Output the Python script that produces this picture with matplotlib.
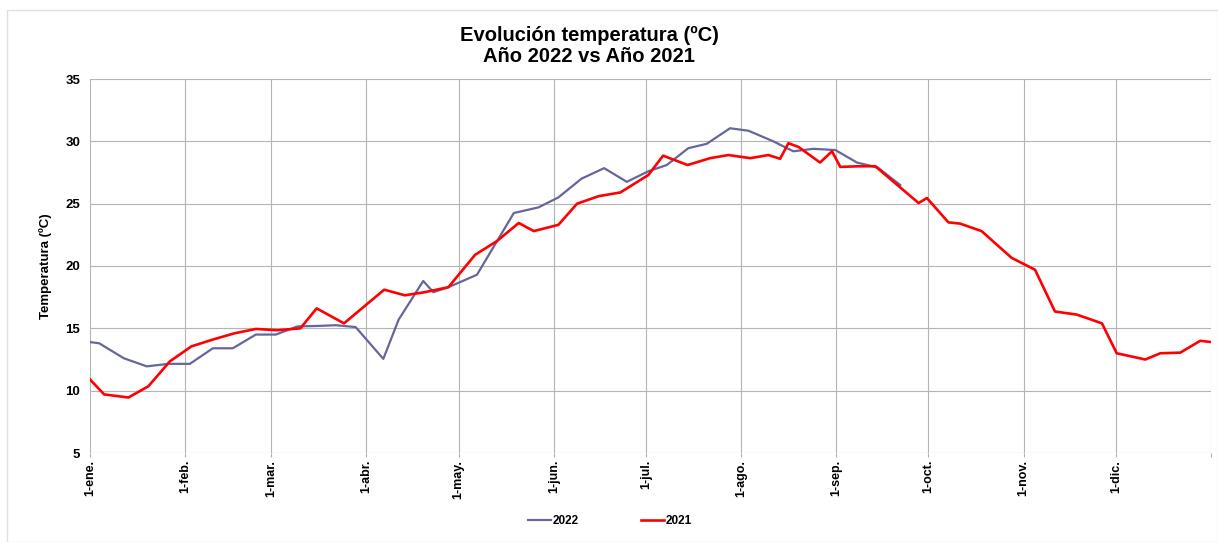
import matplotlib
matplotlib.use("Agg")
import matplotlib.pyplot as plt
from matplotlib.patches import Rectangle

plt.rcParams["font.family"] = ["Liberation Sans", "DejaVu Sans"]

# días desde el 1 de enero
dias_2022 = [0, 3, 11, 18.5, 25.5, 32.5, 40, 46.5, 54, 60.5, 67.5, 75, 80, 86.5,
             95.5, 100.5, 108.5, 111.8, 116.7, 119.5, 126, 138, 146, 152.5, 160,
             167.4, 174.8, 181.8, 187.8, 194.8, 200.8, 208.4, 214.4, 222.5, 229,
             235.5, 242.7, 249.7, 256.5, 263.8]
temp_2022 = [13.9, 13.8, 12.6, 11.95, 12.15, 12.15, 13.4, 13.4, 14.5, 14.5, 15.15,
             15.2, 15.25, 15.1, 12.55, 15.7, 18.8, 17.9, 18.3, 18.6, 19.3, 24.25,
             24.7, 25.5, 27.0, 27.85, 26.75, 27.6, 28.1, 29.45, 29.8, 31.05, 30.85,
             30.0, 29.2, 29.4, 29.3, 28.3, 27.9, 26.5]

dias_2021 = [0, 4.6, 12.5, 19, 26, 33, 40, 47, 54, 61, 68.5, 73.8, 82.7, 95.8,
             102.5, 109, 116.7, 125.4, 132.5, 139.6, 144.5, 152.5, 158.6, 165.6,
             172.7, 181.8, 186.6, 194.6, 201.9, 207.9, 215, 220.9, 224.7, 227.4,
             230.7, 237.7, 241.6, 244.3, 250.3, 255.7, 269.8, 272.5, 279.5, 283.3,
             290.3, 300.1, 307.7, 314.2, 321.3, 329.5, 334.3, 343.6, 348.5, 355,
             361.5, 365]
temp_2021 = [10.9, 9.7, 9.45, 10.35, 12.35, 13.55, 14.1, 14.6, 14.95, 14.85, 15.0,
             16.6, 15.4, 18.1, 17.65, 17.9, 18.3, 20.9, 22.0, 23.45, 22.8, 23.3,
             25.0, 25.6, 25.9, 27.3, 28.85, 28.1, 28.65, 28.9, 28.65, 28.9, 28.6,
             29.85, 29.55, 28.3, 29.2, 27.95, 28.0, 28.0, 25.05, 25.45, 23.5, 23.4,
             22.8, 20.65, 19.7, 16.35, 16.1, 15.4, 13.0, 12.5, 13.0, 13.05, 14.0,
             13.9]

inicio_mes = [0, 31, 59, 90, 120, 151, 181, 212, 243, 273, 304, 334]
etiquetas_mes = ["1-ene.", "1-feb.", "1-mar.", "1-abr.", "1-may.", "1-jun.",
                 "1-jul.", "1-ago.", "1-sep.", "1-oct.", "1-nov.", "1-dic."]

fig = plt.figure(figsize=(12.18, 5.42), dpi=100)
ax = fig.add_axes([90 / 1218, 1 - 453 / 542, 1121 / 1218, 374 / 542])

ax.plot(dias_2022, temp_2022, color="#66669c", lw=1.6, label="2022", zorder=3)
ax.plot(dias_2021, temp_2021, color="#ff0000", lw=1.9, label="2021", zorder=4)

ax.set_xlim(0, 365)
ax.set_ylim(5, 35)
ax.set_yticks(range(5, 36, 5))
ax.set_xticks(inicio_mes + [365])
ax.set_xticklabels(etiquetas_mes + [""], rotation=90, fontsize=9, fontweight="bold")
for t in ax.get_yticklabels():
    t.set_fontweight("bold")
    t.set_fontsize(9.5)
ax.tick_params(axis="y", length=0, pad=7)
ax.tick_params(axis="x", length=3, color="#b0b0b0", pad=2)
ax.grid(True, color="#b4b4b4", lw=0.8)
for s in ax.spines.values():
    s.set_visible(False)
ax.set_ylabel("Temperatura (ºC)", fontsize=9.5, fontweight="bold", labelpad=10)

fig.text(589 / 1218, 1 - 35 / 542, "Evolución temperatura (ºC)", ha="center",
         va="center", fontsize=14.5, fontweight="bold")
fig.text(589 / 1218, 1 - 56 / 542, "Año 2022 vs Año 2021", ha="center",
         va="center", fontsize=14.5, fontweight="bold")

leg = fig.legend(loc="center", bbox_to_anchor=(610 / 1218, 1 - 521 / 542), ncol=2,
                 frameon=False, fontsize=8.5, handlelength=2.0, handletextpad=0.15,
                 columnspacing=5.2)
for t in leg.get_texts():
    t.set_fontweight("bold")

fig.patches.append(Rectangle((7 / 1218, 0), 1211 / 1218, 1 - 10 / 542,
                             transform=fig.transFigure, fill=False,
                             edgecolor="#e0e0e0", lw=1))

fig.savefig("out.png", dpi=100)
